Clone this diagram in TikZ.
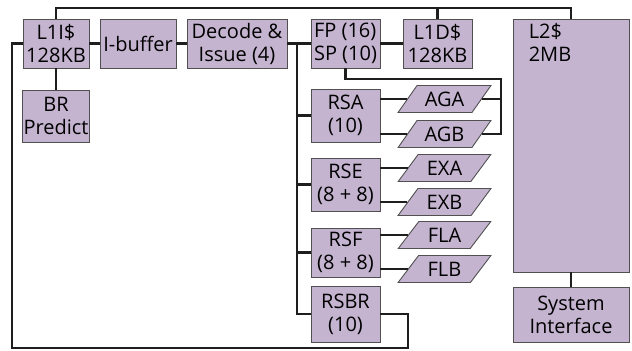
\documentclass[tikz,border=0pt]{standalone}
\usepackage{fontspec}
\setmainfont{Open Sans}
\usetikzlibrary{shapes.geometric}
\definecolor{boxfill}{RGB}{197,180,208}
\definecolor{boxline}{RGB}{80,80,80}
\definecolor{wire}{RGB}{30,30,30}
\tikzset{
  unit/.style={draw=boxline, line width=0.9bp, fill=boxfill, inner sep=1bp,
    align=center, font=\fontsize{20bp}{23bp}\selectfont},
  para/.style={unit, trapezium, trapezium left angle=47, trapezium right angle=133,
    trapezium stretches=true, minimum width=93bp, minimum height=27bp, inner sep=0bp},
  conn/.style={draw=wire, line width=2.4bp}
}
\begin{document}
\begin{tikzpicture}[x=1bp,y=-1bp]
\useasboundingbox (0,0) rectangle (632,350);
% units
\node[unit, minimum width=66bp, minimum height=49bp] (l1i) at (56,43.5) {L1I\$\\128KB};
\node[unit, minimum width=66bp, minimum height=52bp] (br) at (56,116) {BR\\Predict};
\node[unit, minimum width=76bp, minimum height=49bp] (ibuf) at (138,43.5) {I-buffer};
\node[unit, minimum width=100bp, minimum height=49bp] (dec) at (237,43.5) {Decode \&\\Issue (4)};
\node[unit, minimum width=69bp, minimum height=49bp, align=left] (fp) at (345.5,43.5) {FP (16)\\SP (10)};
\node[unit, minimum width=69bp, minimum height=49bp] (l1d) at (437.5,43.5) {L1D\$\\128KB};
\node[unit, minimum width=116bp, minimum height=253bp,
  label={[anchor=north west, align=left, inner sep=0bp, font=\fontsize{20bp}{23bp}\selectfont, xshift=16bp, yshift=-5bp]north west:L2\$\\2MB}] (l2) at (571,145.5) {};
\node[unit, minimum width=116bp, minimum height=55bp] (sys) at (571,314.5) {System\\Interface};
\node[unit, minimum width=69bp, minimum height=53bp] (rsa) at (345.5,115.5) {RSA\\(10)};
\node[unit, minimum width=69bp, minimum height=53bp] (rse) at (345.5,184.5) {RSE\\(8 + 8)};
\node[unit, minimum width=69bp, minimum height=49bp] (rsf) at (345.5,252.5) {RSF\\(8 + 8)};
\node[unit, minimum width=69bp, minimum height=56bp] (rsbr) at (345.5,314) {RSBR\\(10)};
\node[para] (aga) at (444.5,99) {AGA};
\node[para] (agb) at (444.5,134) {AGB};
\node[para] (exa) at (444.5,168) {EXA};
\node[para] (exb) at (444.5,202) {EXB};
\node[para] (fla) at (444.5,235) {FLA};
\node[para] (flb) at (444.5,269) {FLB};
% helper coordinates
\coordinate (topbus) at (0,8);
\coordinate (vbus) at (297,43.5);
\coordinate (rbus) at (501,79);
\coordinate (lp1) at (408,348);
\coordinate (lp2) at (12,348);
% connectors
\draw[conn] (l1i.north) -- (l1i.north |- topbus) -| (l2.north);
\draw[conn] (l1d.north) -- (l1d.north |- topbus);
\draw[conn] (l1i) -- (ibuf);
\draw[conn] (ibuf) -- (dec);
\draw[conn] (dec) -- (fp);
\draw[conn] (fp) -- (l1d);
\draw[conn] (l1i) -- (br);
\draw[conn] (l2) -- (sys);
\draw[conn] (vbus) |- (rsbr.west);
\draw[conn] (vbus |- rsa.west) -- (rsa.west);
\draw[conn] (vbus |- rse.west) -- (rse.west);
\draw[conn] (vbus |- rsf.west) -- (rsf.west);
\draw[conn] (fp.south) |- (rbus) |- (agb.right side);
\draw[conn] (aga.right side) -- (aga.right side -| rbus);
\draw[conn] (rsa.east |- aga.left side) -- (aga.left side);
\draw[conn] (rsa.east |- agb.left side) -- (agb.left side);
\draw[conn] (rse.east |- exa.left side) -- (exa.left side);
\draw[conn] (rse.east |- exb.left side) -- (exb.left side);
\draw[conn] (rsf.east |- fla.left side) -- (fla.left side);
\draw[conn] (rsf.east |- flb.left side) -- (flb.left side);
\draw[conn] (rsbr.east) -| (lp1) -- (lp2) |- (l1i.west);
\end{tikzpicture}
\end{document}
